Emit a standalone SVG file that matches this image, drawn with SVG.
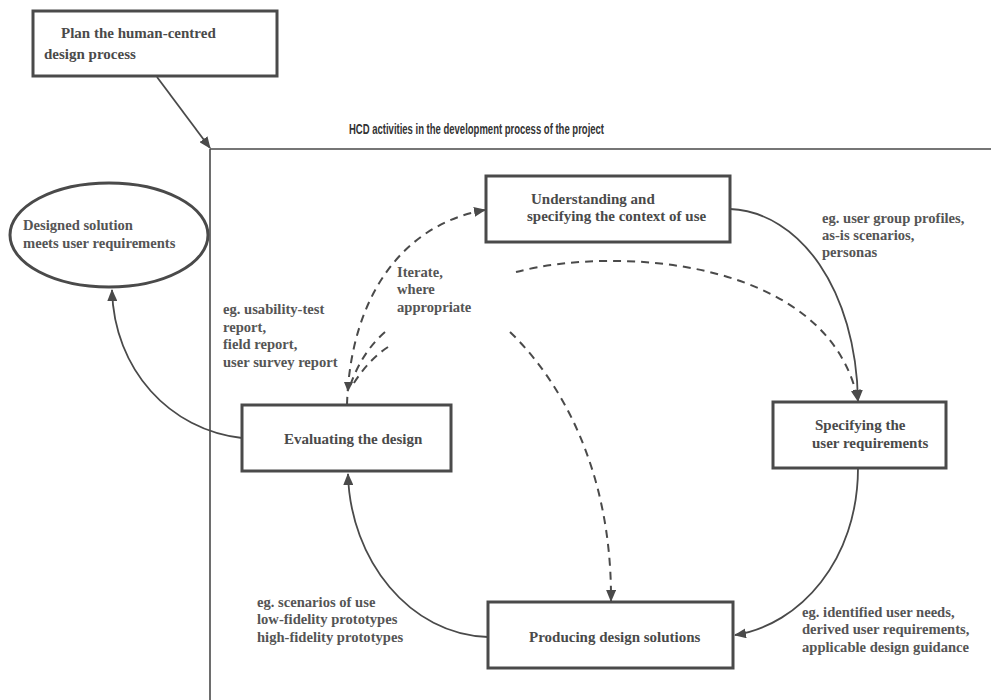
<svg xmlns="http://www.w3.org/2000/svg" width="991" height="700" viewBox="0 0 991 700">
<defs>
<style>
.box{fill:#fff;stroke:#4a4a4a;stroke-width:3}
.frame{fill:none;stroke:#4a4a4a;stroke-width:1.6}
.t{font-family:"Liberation Serif","DejaVu Serif",serif;font-weight:bold;fill:#555;font-size:14.6px}
.tb{font-family:"Liberation Serif","DejaVu Serif",serif;font-weight:bold;fill:#4a4a4a;font-size:15px}
.title{font-family:"Liberation Sans","DejaVu Sans",sans-serif;font-weight:bold;fill:#333;font-size:15px}
.solid{fill:none;stroke:#4a4a4a;stroke-width:1.8}
.dash{fill:none;stroke:#4a4a4a;stroke-width:2;stroke-dasharray:8 6}
</style>
<marker id="ah" viewBox="0 0 12 10" refX="11" refY="5" markerWidth="12" markerHeight="10" markerUnits="userSpaceOnUse" orient="auto">
<path d="M0,0 L12,5 L0,10 Z" fill="#4a4a4a"/>
</marker>
</defs>
<rect width="991" height="700" fill="#fff"/>

<g id="frame">
<path class="frame" d="M210,149 L991,149 M210,149 L210,700"/>
<text class="title" x="349" y="134" textLength="255" lengthAdjust="spacingAndGlyphs">HCD activities in the development process of the project</text>
</g>

<g id="connectors">
<path class="solid" d="M157,77 L210,148" marker-end="url(#ah)"/>
<path class="solid" d="M242,438 C 170,430 114,370 112,290" marker-end="url(#ah)"/>
<path class="solid" d="M488,637 C 410,635 350,560 348,474" marker-end="url(#ah)"/>
<path class="solid" d="M730,209 C 800,212 856,290 858,401" marker-end="url(#ah)"/>
<path class="solid" d="M858,468 C 858,560 800,625 735,635" marker-end="url(#ah)"/>
<path class="dash" d="M347,405 C 350,300 400,225 485,210" marker-end="url(#ah)"/>
<path class="dash" d="M516,272 C 620,245 830,260 858,401" marker-end="url(#ah)"/>
<path class="dash" d="M510,332 C 560,380 612,470 611,601" marker-end="url(#ah)"/>
<path class="dash" d="M385,332 Q 362,352 350,386"/>
<path class="dash" d="M388,347 Q 368,360 352,386"/>
<path d="M344,382 L353,382 L348,392 Z" fill="#4a4a4a"/>
</g>

<g id="plan">
<rect class="box" x="33" y="11" width="244" height="65"/>
<text class="tb" x="61" y="38">Plan the human-centred</text>
<text class="tb" x="44" y="59">design process</text>
</g>

<g id="designed">
<ellipse cx="109" cy="235" rx="99" ry="52" fill="#fff" stroke="#4a4a4a" stroke-width="3"/>
<text class="t" x="23" y="230">Designed solution</text>
<text class="t" x="23" y="248">meets user requirements</text>
</g>

<g id="understanding">
<rect class="box" x="486" y="176" width="244" height="66"/>
<text class="tb" x="531" y="204">Understanding and</text>
<text class="tb" x="527" y="221">specifying the context of use</text>
</g>

<g id="specifying">
<rect class="box" x="773" y="402" width="173" height="66"/>
<text class="tb" x="815" y="430">Specifying the</text>
<text class="tb" x="812" y="448">user requirements</text>
</g>

<g id="producing">
<rect class="box" x="488" y="602" width="245" height="66"/>
<text class="tb" x="529" y="642">Producing design solutions</text>
</g>

<g id="evaluating">
<rect class="box" x="242" y="405" width="209" height="66"/>
<text class="tb" x="284" y="444">Evaluating the design</text>
</g>

<g id="labels">
<text class="t" x="822" y="223">eg. user group profiles,</text>
<text class="t" x="822" y="240">as-is scenarios,</text>
<text class="t" x="822" y="257">personas</text>
<text class="t" x="397" y="277">Iterate,</text>
<text class="t" x="397" y="294">where</text>
<text class="t" x="397" y="312">appropriate</text>
<text class="t" x="223" y="314">eg. usability-test</text>
<text class="t" x="223" y="332">report,</text>
<text class="t" x="223" y="349">field report,</text>
<text class="t" x="223" y="367">user survey report</text>
<text class="t" x="257" y="607">eg. scenarios of use</text>
<text class="t" x="257" y="624">low-fidelity prototypes</text>
<text class="t" x="257" y="642">high-fidelity prototypes</text>
<text class="t" x="802" y="617">eg. identified user needs,</text>
<text class="t" x="802" y="634">derived user requirements,</text>
<text class="t" x="802" y="652">applicable design guidance</text>
</g>
</svg>
